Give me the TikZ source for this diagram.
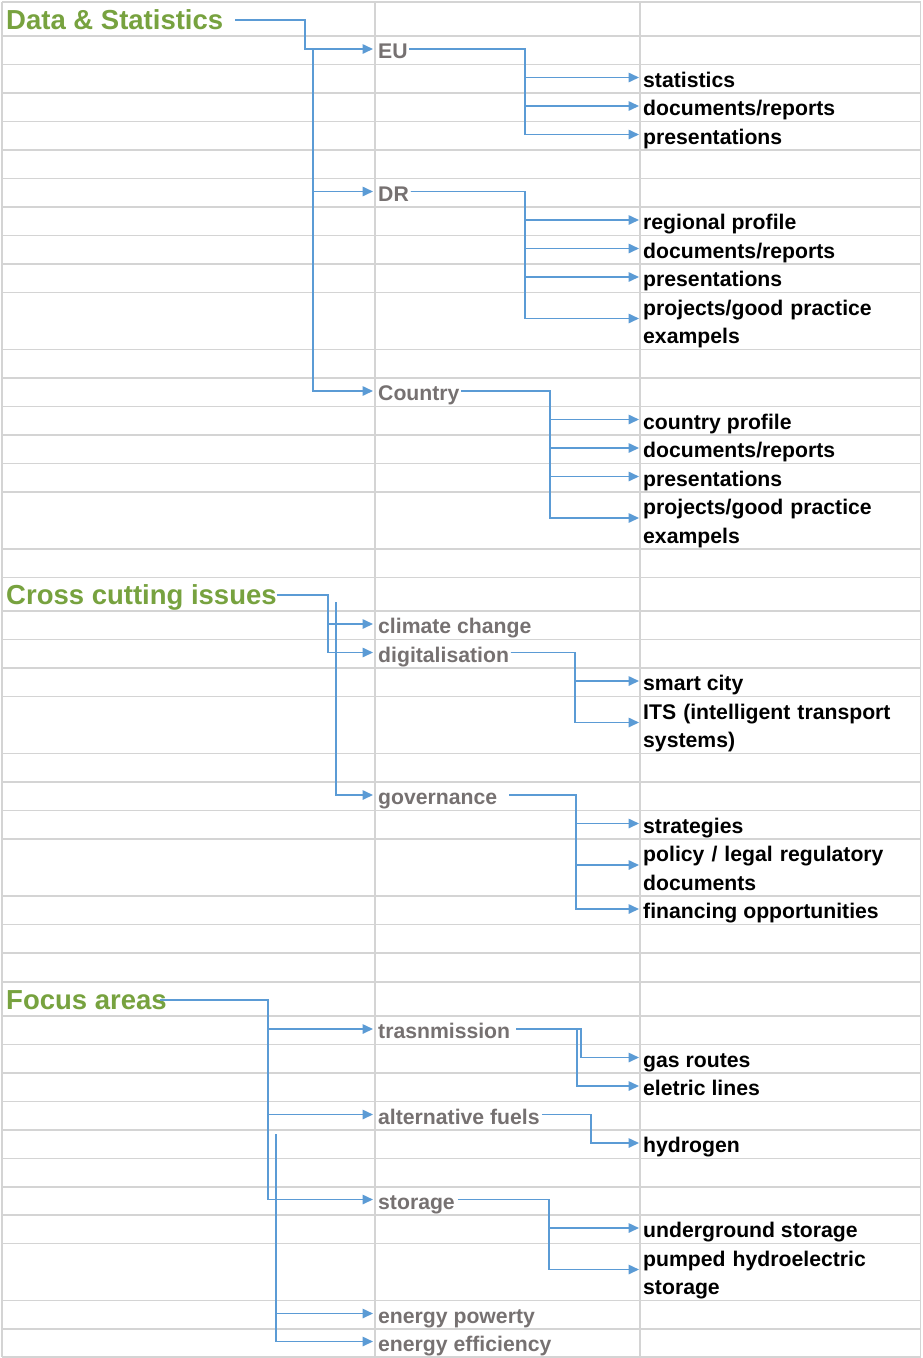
\documentclass[tikz,border=0pt]{standalone}
\usepackage{fontspec}
\setmainfont{Liberation Sans}
\usetikzlibrary{arrows.meta}
\definecolor{hgreen}{HTML}{77A23F}
\definecolor{tgray}{HTML}{767171}
\definecolor{cblue}{HTML}{5B9BD5}
\definecolor{gridc}{HTML}{D4D4D4}
\begin{document}
\begin{tikzpicture}[x=1pt,y=-1pt,
  gridline/.style={draw=gridc,line width=1.5pt},
  head/.style={anchor=base west,inner sep=0pt,text height=18pt,text depth=0pt,text=hgreen,font=\fontsize{27.5}{33}\selectfont\bfseries},
  cat/.style={anchor=base west,inner sep=0pt,text height=19pt,text depth=0pt,text=tgray,font=\fontsize{21.2}{28.5}\selectfont\bfseries},
  leaf/.style={anchor=base west,inner sep=0pt,text height=19pt,text depth=0pt,text=black,font=\fontsize{21.2}{28.5}\selectfont\bfseries},
  leaftwo/.style={leaf,text depth=26pt,text width=270pt,align=left},
  conn/.style={draw=cblue,line width=1.6pt,-{Triangle[length=10.5pt,width=9.5pt]}},
]
\useasboundingbox (0,0) rectangle (922,1358);
\fill[white] (0,0) rectangle (922,1358);
% grid
\foreach \y in {2,36,64.5,93,121.5,150,178.5,207,235.5,264,292.5,349.5,378,406.5,435,463.5,492,549,577.5,611,639.5,668,696.5,753.5,782,810.5,839,896,924.5,953,982,1016,1044.5,1073,1101.5,1130,1158.5,1187,1215,1243.5,1300.5,1329,1357}
  \draw[gridline] (2,\y) -- (920.5,\y);
\foreach \x in {2,375,640,920.5}
  \draw[gridline] (\x,2) -- (\x,1357);

% junction coordinates
\coordinate (jds) at (305,0);
\coordinate (jds2) at (313,0);
\coordinate (jeu) at (525,0);
\coordinate (jdr) at (525,0);
\coordinate (jco) at (550,0);
\coordinate (jcc) at (328,0);
\coordinate (jcc2) at (336,602);
\coordinate (jdig) at (575,0);
\coordinate (jgov) at (576,0);
\coordinate (jfa) at (268,0);
\coordinate (jfa2) at (276,1134);
\coordinate (jtr1) at (581,0);
\coordinate (jtr2) at (577,0);
\coordinate (jalt) at (591,0);
\coordinate (jsto) at (549,0);

% Data & Statistics
\node[head] (ds) at (6,29) {Data \& Statistics};
\node[cat] (eu) at (378,58.5) {EU};
\node[leaf] (eust) at (643,87) {statistics};
\node[leaf] (eudoc) at (643,115.5) {documents/reports};
\node[leaf] (eupre) at (643,144) {presentations};
\node[cat] (dr) at (378,201) {DR};
\node[leaf] (drreg) at (643,229.5) {regional profile};
\node[leaf] (drdoc) at (643,258) {documents/reports};
\node[leaf] (drpre) at (643,286.5) {presentations};
\node[leaftwo] (drpro) at (643,315) {projects/good practice\\exampels};
\node[cat] (co) at (378,400.5) {Country};
\node[leaf] (coprof) at (643,429) {country profile};
\node[leaf] (codoc) at (643,457.5) {documents/reports};
\node[leaf] (copre) at (643,486) {presentations};
\node[leaftwo] (copro) at (643,514.5) {projects/good practice\\exampels};

% Cross cutting issues
\node[head] (cc) at (6,604) {Cross cutting issues};
\node[cat] (clim) at (378,633.5) {climate change};
\node[cat] (dig) at (378,662) {digitalisation};
\node[leaf] (smart) at (643,690.5) {smart city};
\node[leaftwo] (its) at (643,719) {ITS (intelligent transport\\systems)};
\node[cat] (gov) at (378,804.5) {governance};
\node[leaf] (strat) at (643,833) {strategies};
\node[leaftwo] (pol) at (643,861.5) {policy / legal regulatory\\documents};
\node[leaf] (fin) at (643,918.5) {financing opportunities};

% Focus areas
\node[head] (fa) at (6,1009) {Focus areas};
\node[cat] (tr) at (378,1038.5) {trasnmission};
\node[leaf] (gas) at (643,1067) {gas routes};
\node[leaf] (ele) at (643,1095.5) {eletric lines};
\node[cat] (alt) at (378,1124) {alternative fuels};
\node[leaf] (hyd) at (643,1152.5) {hydrogen};
\node[cat] (sto) at (378,1209) {storage};
\node[leaf] (und) at (643,1237.5) {underground storage};
\node[leaftwo] (pump) at (643,1266) {pumped hydroelectric\\storage};
\node[cat] (ep) at (378,1323) {energy powerty};
\node[cat] (ee) at (378,1351) {energy efficiency};

% connectors: Data & Statistics
\draw[conn] ([xshift=12pt]ds.east) -| (eu.west -| jds) -- ([xshift=-5pt]eu.west);
\draw[conn] (eu.west -| jds2) |- ([xshift=-5pt]dr.west);
\draw[conn] (eu.west -| jds2) |- ([xshift=-5pt]co.west);
\foreach \t in {eust,eudoc,eupre}
  \draw[conn] ([xshift=1.5pt]eu.east) -| (\t.west -| jeu) -- ([xshift=-4pt]\t.west);
\foreach \t in {drreg,drdoc,drpre,drpro}
  \draw[conn] ([xshift=1.5pt]dr.east) -| (\t.west -| jdr) -- ([xshift=-4pt]\t.west);
\foreach \t in {coprof,codoc,copre,copro}
  \draw[conn] ([xshift=1.5pt]co.east) -| (\t.west -| jco) -- ([xshift=-4pt]\t.west);

% connectors: Cross cutting issues
\draw[conn] (cc.east) -| (clim.west -| jcc) -- ([xshift=-5pt]clim.west);
\draw[conn] (cc.east) -| (dig.west -| jcc) -- ([xshift=-5pt]dig.west);
\draw[conn] (jcc2) |- ([xshift=-5pt]gov.west);
\foreach \t in {smart,its}
  \draw[conn] ([xshift=1.5pt]dig.east) -| (\t.west -| jdig) -- ([xshift=-4pt]\t.west);
\foreach \t in {strat,pol,fin}
  \draw[conn] ([xshift=12pt]gov.east) -| (\t.west -| jgov) -- ([xshift=-4pt]\t.west);

% connectors: Focus areas
\foreach \t in {tr,alt,sto}
  \draw[conn] ([xshift=-6.5pt]fa.east) -| (\t.west -| jfa) -- ([xshift=-5pt]\t.west);
\draw[conn] (jfa2) |- ([xshift=-5pt]ep.west);
\draw[conn] (jfa2) |- ([xshift=-5pt]ee.west);
\draw[conn] ([xshift=6pt]tr.east) -| (gas.west -| jtr1) -- ([xshift=-4pt]gas.west);
\draw[conn] ([xshift=6pt]tr.east) -| (ele.west -| jtr2) -- ([xshift=-4pt]ele.west);
\draw[conn] ([xshift=2pt]alt.east) -| (hyd.west -| jalt) -- ([xshift=-4pt]hyd.west);
\foreach \t in {und,pump}
  \draw[conn] ([xshift=3pt]sto.east) -| (\t.west -| jsto) -- ([xshift=-4pt]\t.west);
\end{tikzpicture}
\end{document}
